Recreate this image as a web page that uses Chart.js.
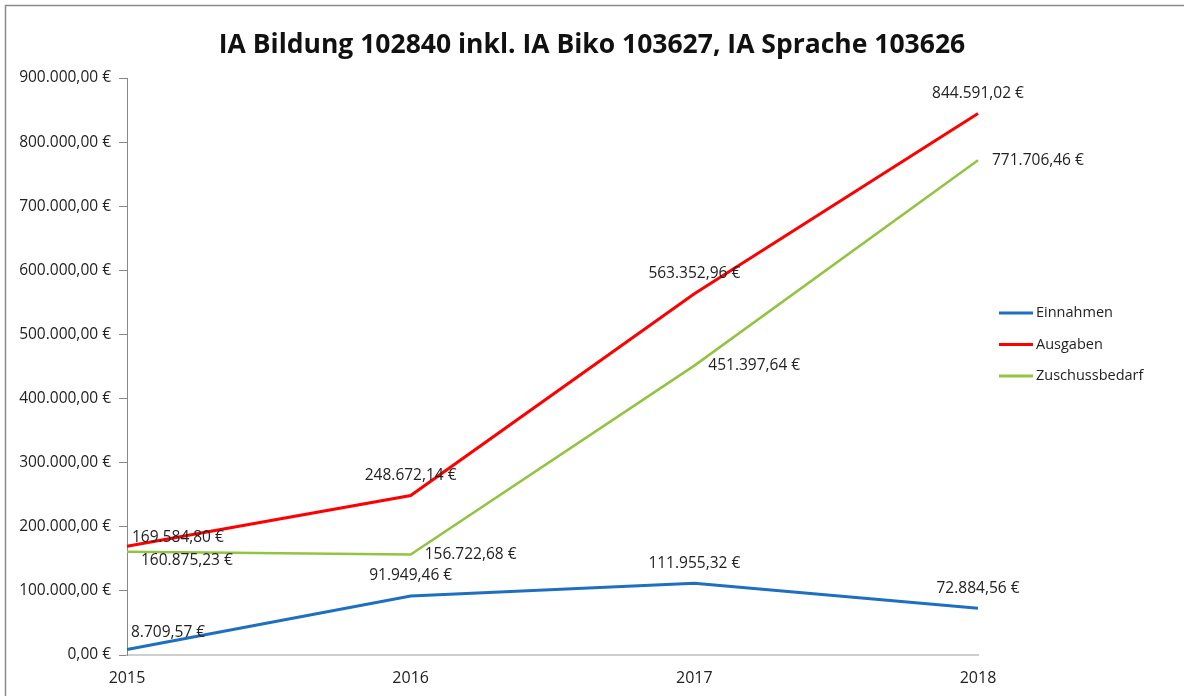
<!DOCTYPE html>
<html>
<head>
<meta charset="utf-8">
<script src="https://cdn.jsdelivr.net/npm/chart.js@4"></script>
<style>
  html, body { margin: 0; padding: 0; background: #fff; }
  #wrap { width: 1184px; height: 696px; position: relative; }
</style>
</head>
<body>
<div id="wrap"><canvas id="lineChart" width="1184" height="696"></canvas></div>
<script>
const years = ['2015', '2016', '2017', '2018'];
const einnahmen = [8709.57, 91949.46, 111955.32, 72884.56];
const ausgaben = [169584.80, 248672.14, 563352.96, 844591.02];
const zuschussbedarf = [160875.23, 156722.68, 451397.64, 771706.46];
const yTicks = [0, 100000, 200000, 300000, 400000, 500000, 600000, 700000, 800000, 900000];

const FONT = '"Open Sans", "DejaVu Sans", sans-serif';

// 1234567.8 -> "1.234.567,80 €"
function euro(v) {
  let parts = v.toFixed(2).split('.');
  let intPart = parts[0].replace(/\B(?=(\d{3})+(?!\d))/g, '.');
  return intPart + ',' + parts[1] + ' €';
}

// draws the value next to each point; labelPos on the dataset says where
const valueLabels = {
  id: 'valueLabels',
  afterDatasetsDraw(chart) {
    const ctx = chart.ctx;
    ctx.save();
    ctx.font = '15.5px ' + FONT;
    ctx.fillStyle = '#222';
    ctx.textBaseline = 'middle';
    chart.data.datasets.forEach((ds, i) => {
      chart.getDatasetMeta(i).data.forEach((pt, j) => {
        const pos = ds.labelPos[j];
        let x = pt.x, y = pt.y;
        if (pos === 'above') { ctx.textAlign = 'center'; y -= 20; }
        else if (pos === 'aboveRight') { ctx.textAlign = 'left'; x += 4; y -= 17; }
        else if (pos === 'nearRight') { ctx.textAlign = 'left'; x += 5; y -= 9; }
        else if (pos === 'belowRight') { ctx.textAlign = 'left'; x += 14; y += 9; }
        else { ctx.textAlign = 'left'; x += 14; }
        ctx.fillText(euro(ds.data[j]), x, y);
      });
    });
    ctx.restore();
  }
};

// title, legend and outer frame
const decor = {
  id: 'decor',
  beforeDraw(chart) {
    const ctx = chart.ctx;
    ctx.save();
    ctx.fillStyle = '#fff';
    ctx.fillRect(0, 0, chart.width, chart.height);
    ctx.strokeStyle = '#8a8a8a';
    ctx.lineWidth = 1.5;
    ctx.strokeRect(5.5, 5.5, chart.width - 4, chart.height);
    ctx.restore();
  },
  afterDraw(chart) {
    const ctx = chart.ctx;
    ctx.save();
    ctx.font = 'bold 26.5px ' + FONT;
    ctx.fillStyle = '#111';
    ctx.textAlign = 'center';
    ctx.textBaseline = 'middle';
    ctx.fillText('IA Bildung 102840 inkl. IA Biko 103627, IA Sprache 103626', 592, 45);

    ctx.font = '14.5px ' + FONT;
    ctx.textAlign = 'left';
    chart.data.datasets.forEach((ds, i) => {
      const y = 313 + i * 31.5;
      ctx.strokeStyle = ds.borderColor;
      ctx.lineWidth = 3;
      ctx.beginPath();
      ctx.moveTo(999, y);
      ctx.lineTo(1033, y);
      ctx.stroke();
      ctx.fillStyle = '#222';
      ctx.fillText(ds.label, 1036, y);
    });
    ctx.restore();
  }
};

new Chart(document.getElementById('lineChart'), {
  type: 'line',
  data: {
    labels: years,
    datasets: [
      {
        label: 'Einnahmen',
        data: einnahmen,
        borderColor: '#1f6fc1',
        borderWidth: 3,
        labelPos: ['aboveRight', 'above', 'above', 'above']
      },
      {
        label: 'Ausgaben',
        data: ausgaben,
        borderColor: '#ff0000',
        borderWidth: 3,
        labelPos: ['nearRight', 'above', 'above', 'above']
      },
      {
        label: 'Zuschussbedarf',
        data: zuschussbedarf,
        borderColor: '#92c441',
        borderWidth: 2.5,
        labelPos: ['belowRight', 'right', 'right', 'right']
      }
    ]
  },
  options: {
    responsive: false,
    animation: false,
    elements: { point: { radius: 0 }, line: { tension: 0 } },
    layout: { padding: { top: 78, left: 5, right: 206, bottom: 0 } },
    plugins: {
      legend: { display: false },
      title: { display: false },
      tooltip: { enabled: false }
    },
    scales: {
      x: {
        offset: false,
        grid: { display: false },
        border: { display: true, color: '#cfcfcf', width: 2 },
        ticks: { color: '#222', font: { family: FONT, size: 16 }, padding: 6, maxRotation: 0 },
        afterFit(scale) { scale.height = 41; }
      },
      y: {
        min: 0,
        max: 900000,
        afterBuildTicks(scale) { scale.ticks = yTicks.map(v => ({ value: v })); },
        grid: { drawOnChartArea: false, drawTicks: true, tickLength: 8, color: '#888' },
        border: { display: true, color: '#888', width: 1 },
        ticks: {
          color: '#222',
          font: { family: FONT, size: 15.5 },
          padding: 8,
          callback: v => euro(v)
        },
        afterFit(scale) { scale.width = 122; }
      }
    }
  },
  plugins: [decor, valueLabels]
});
</script>
</body>
</html>
